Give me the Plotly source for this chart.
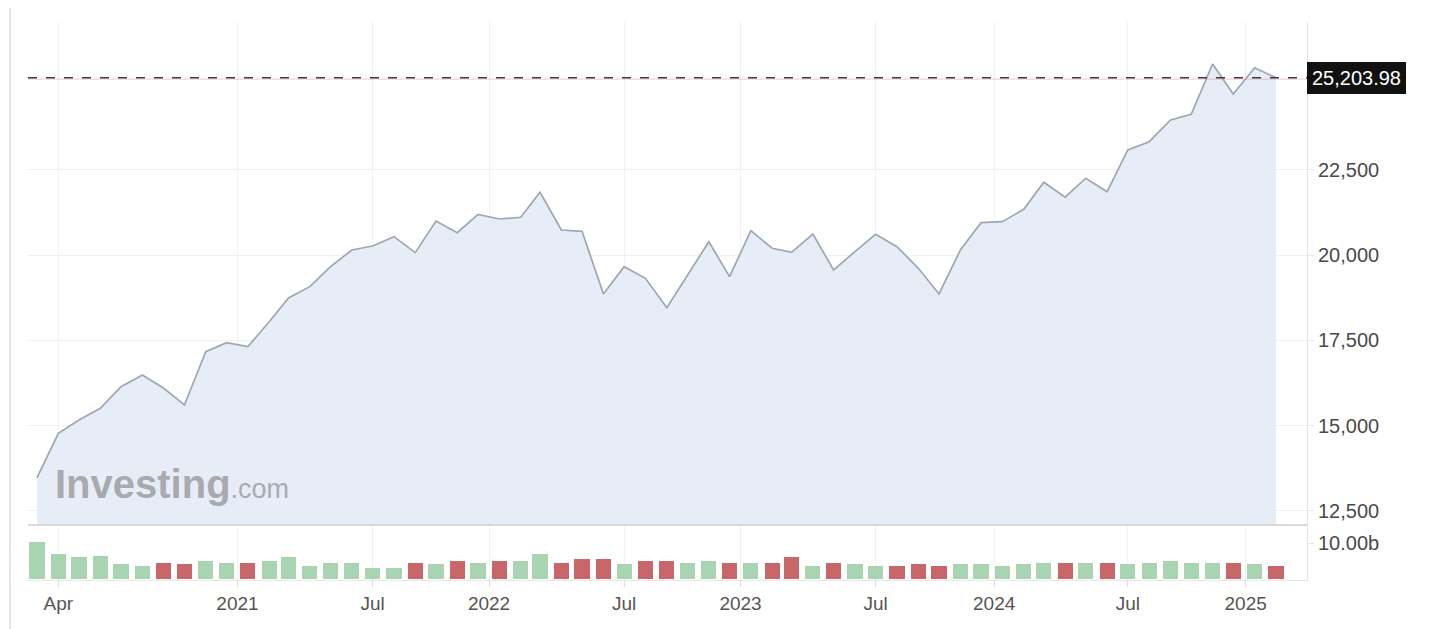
import pandas as pd
import plotly.graph_objects as go

# ---- data (monthly) ----
dates = pd.date_range("2020-03-01", periods=60, freq="MS")
close = [13468, 14778, 15169, 15511, 16146, 16488, 16098, 15609, 17172, 17436,
         17318, 18050, 18746, 19078, 19665, 20154, 20271, 20545, 20076, 21004,
         20660, 21200, 21063, 21113, 21846, 20740, 20702, 18864, 19665, 19323,
         18462, 19430, 20397, 19371, 20720, 20203, 20086, 20623, 19567, 20104,
         20613, 20252, 19617, 18864, 20154, 20955, 20985, 21348, 22141, 21701,
         22258, 21862, 23087, 23330, 23966, 24133, 25608, 24729, 25500, 25203.98]
volume_b = [10.4, 7.0, 6.1, 6.4, 4.2, 3.8, 4.6, 4.2, 5.1, 4.6,
            4.6, 5.1, 6.1, 3.7, 4.6, 4.6, 3.2, 3.2, 4.6, 4.1,
            5.1, 4.4, 5.0, 5.0, 6.9, 4.6, 5.6, 5.6, 4.1, 5.1,
            5.1, 4.6, 5.0, 4.6, 4.6, 4.4, 6.1, 3.7, 4.6, 4.1,
            3.7, 3.7, 4.2, 3.7, 4.1, 4.1, 3.7, 4.1, 4.6, 4.6,
            4.6, 4.6, 4.1, 4.6, 5.0, 4.6, 4.6, 4.6, 4.1, 3.7]
last_price = 25203.98
price_ticks = [12500, 15000, 17500, 20000, 22500]
x_tick_dates = ["2020-04-01", "2020-12-17", "2021-07-01", "2021-12-17", "2022-07-01",
                "2022-12-17", "2023-07-01", "2023-12-20", "2024-07-01", "2024-12-19"]
x_tick_text = ["Apr", "2021", "Jul", "2022", "Jul", "2023", "Jul", "2024", "Jul", "2025"]

GREEN = "#a9d4b2"
RED = "#c9666a"
bar_colors = [GREEN] + [GREEN if close[i] >= close[i - 1] else RED for i in range(1, len(close))]

FONT = "Liberation Sans, Arial, sans-serif"

fig = go.Figure()
fig.add_trace(go.Scatter(
    x=dates, y=close, mode="lines", fill="tozeroy",
    line=dict(color="rgb(158,166,178)", width=1.7),
    fillcolor="rgb(231,237,246)", xaxis="x", yaxis="y", hoverinfo="x+y",
))
fig.add_trace(go.Bar(
    x=dates, y=volume_b, marker=dict(color=bar_colors, line=dict(width=0)),
    width=22 * 86400000, xaxis="x", yaxis="y2",
))

split = 55 / 558.0

fig.update_layout(
    width=1440, height=629,
    margin=dict(l=20, r=141, t=14, b=57),
    paper_bgcolor="white", plot_bgcolor="white",
    showlegend=False, bargap=0,
    font=dict(family=FONT, size=20, color="#4a4a4a"),
    xaxis=dict(
        type="date", anchor="y2",
        range=["2020-02-17", "2025-03-18"],
        tickvals=x_tick_dates, ticktext=x_tick_text,
        showgrid=True, gridcolor="#f1f1f1", gridwidth=1,
        ticks="outside", ticklen=6, tickcolor="#dcdcdc",
        showline=True, linecolor="#e6e6e6", linewidth=1,
        tickfont=dict(size=19, color="#555555", family=FONT),
        zeroline=False,
    ),
    yaxis=dict(
        domain=[split, 1], anchor="x", side="right",
        range=[12089, 26840],
        tickvals=price_ticks, tickformat=",",
        showgrid=True, gridcolor="#f1f1f1", gridwidth=1,
        ticks="outside", ticklen=6, tickcolor="#e6e6e6",
        showline=True, linecolor="#e2e2e2", linewidth=1,
        tickfont=dict(size=20, color="#4a4a4a", family=FONT),
        zeroline=False,
    ),
    yaxis2=dict(
        domain=[0, split], anchor="x", side="right",
        range=[-0.19, 14.96],
        tickvals=[10], ticktext=["10.00b"],
        showgrid=False,
        ticks="outside", ticklen=6, tickcolor="#e6e6e6",
        showline=True, linecolor="#e2e2e2", linewidth=1,
        tickfont=dict(size=20, color="#4a4a4a", family=FONT),
        zeroline=False,
    ),
    shapes=[
        # separator between price and volume panels
        dict(type="line", xref="paper", yref="paper", x0=0, x1=1, y0=split, y1=split,
             line=dict(color="#cfcfcf", width=1.5)),
        # faint red line under the dashed price line
        dict(type="line", xref="paper", yref="y", x0=0, x1=1, y0=last_price - 40, y1=last_price - 40,
             line=dict(color="rgba(215,110,110,0.35)", width=1)),
        # dashed current-price line
        dict(type="line", xref="paper", yref="y", x0=0, x1=1, y0=last_price, y1=last_price,
             line=dict(color="#3a3a3a", width=1.5, dash="dash")),
        # outer left border
        dict(type="line", xref="paper", yref="paper", x0=-18 / 1279, x1=-18 / 1279, y0=-0.12, y1=1.05,
             line=dict(color="#dedede", width=1.5)),
    ],
    annotations=[
        dict(xref="paper", yref="y", x=1, y=last_price, xanchor="left", yanchor="middle",
             text=f"{last_price:,.2f}", showarrow=False,
             font=dict(size=20, color="white", family=FONT),
             bgcolor="#111111", bordercolor="#111111", borderwidth=1, borderpad=4),
        dict(xref="paper", yref="paper", x=(53 - 28) / 1279, y=(580 - 484) / 558,
             xanchor="left", yanchor="middle", showarrow=False,
             text="<b>Investing</b><span style='font-size:27px'>.com</span>",
             font=dict(size=40, color="rgba(140,140,140,0.7)", family=FONT)),
    ],
)

fig.write_html("out.html")
